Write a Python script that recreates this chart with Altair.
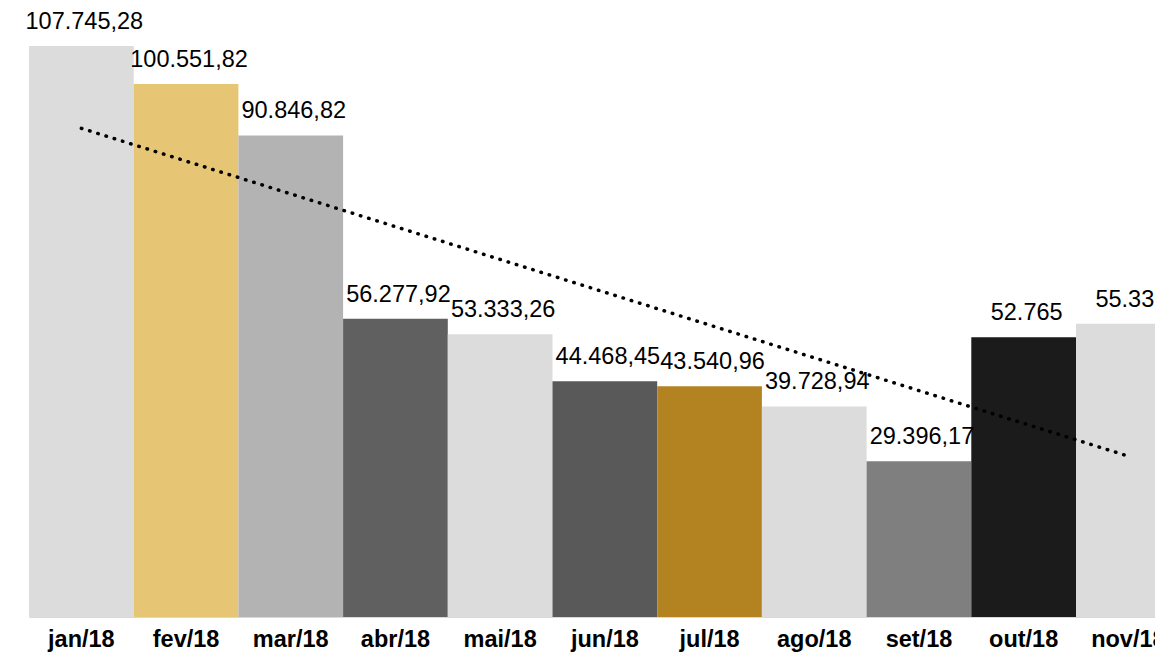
import altair as alt
import pandas as pd
import numpy as np

months = ["jan/18", "fev/18", "mar/18", "abr/18", "mai/18", "jun/18",
          "jul/18", "ago/18", "set/18", "out/18", "nov/18"]
values = [107745.28, 100551.82, 90846.82, 56277.92, 53333.26, 44468.45,
          43540.96, 39728.94, 29396.17, 52765, 55337]
labels = ["107.745,28", "100.551,82", "90.846,82", "56.277,92", "53.333,26",
          "44.468,45", "43.540,96", "39.728,94", "29.396,17", "52.765", "55.337"]
colors = ["#dcdcdc", "#e6c574", "#b3b3b3", "#606060", "#dcdcdc", "#595959",
          "#b38322", "#dcdcdc", "#7f7f7f", "#1b1b1b", "#dcdcdc"]

idx = np.arange(len(values))
slope, intercept = np.polyfit(idx, values, 1)
trend = intercept + slope * idx

df = pd.DataFrame({"month": months, "value": values, "label": labels,
                   "color": colors, "trend": trend})

x = alt.X("month:N", sort=months,
          scale=alt.Scale(range=[0, 1151.7], paddingInner=0, paddingOuter=0),
          axis=alt.Axis(title=None, labelAngle=0, labelFontSize=23.5,
                        labelFontWeight="bold", labelColor="#000000",
                        labelFont="Liberation Sans", labelPadding=10.5,
                        ticks=False, domainColor="#d9d9d9", domainWidth=1))
yscale = alt.Scale(domain=[0, 114900], nice=False, zero=True)

base = alt.Chart(df)
bars = base.mark_bar().encode(
    x=x,
    y=alt.Y("value:Q", scale=yscale, axis=None),
    color=alt.Color("color:N", scale=None),
)
text = base.mark_text(dy=-17, dx=3, baseline="alphabetic", align="center",
                      fontSize=23.5, font="Liberation Sans", color="#000000").encode(
    x=x,
    y=alt.Y("value:Q", scale=yscale, axis=None),
    text="label:N",
)
line = base.mark_line(color="#000000", strokeWidth=3.5, strokeDash=[0.5, 8.1],
                      strokeCap="round").encode(
    x=x,
    y=alt.Y("trend:Q", scale=yscale, axis=None),
)

chart = alt.layer(bars, line, text).properties(
    width=1126, height=609,
    autosize=alt.AutoSizeParams(type="none"),
    padding={"left": 21, "top": 0, "right": 0, "bottom": 35},
).configure_view(strokeWidth=0)

chart.save("out.html", embed_options={"renderer": "svg", "actions": False})
